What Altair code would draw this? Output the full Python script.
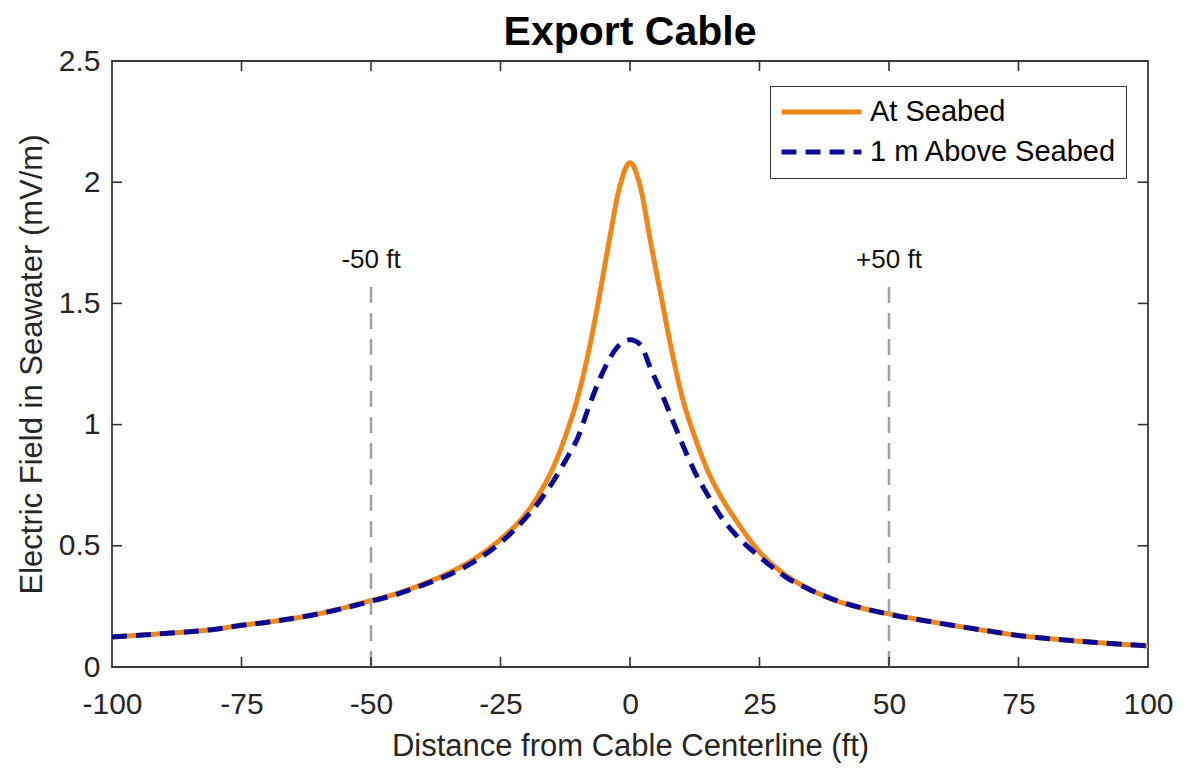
import altair as alt
import pandas as pd

# Distance from cable centerline (ft)
x_vals = [-100, -90, -80, -75, -70, -60, -50, -45, -40, -35, -30, -25, -20, -17.5, -15, -12.5,
          -10, -8, -6, -4, -2, 0, 2, 4, 6, 8, 10, 12.5, 15, 17.5, 20, 25, 30, 35, 40, 45, 50,
          60, 70, 75, 80, 90, 100]

# Electric field at seabed (mV/m)
seabed_vals = [0.124, 0.138, 0.156, 0.172, 0.185, 0.220, 0.274, 0.303, 0.342, 0.388, 0.447, 0.527,
               0.635, 0.715, 0.815, 0.950, 1.12, 1.30, 1.52, 1.76, 1.98, 2.08, 1.98, 1.75, 1.53,
               1.31, 1.12, 0.95, 0.81, 0.705, 0.620, 0.475, 0.380, 0.318, 0.272, 0.242, 0.219,
               0.180, 0.146, 0.130, 0.119, 0.101, 0.087]

# Electric field 1 m above seabed (mV/m)
above_vals = [0.124, 0.138, 0.156, 0.172, 0.185, 0.220, 0.271, 0.300, 0.338, 0.380, 0.436, 0.513,
              0.618, 0.683, 0.760, 0.850, 0.950, 1.07, 1.18, 1.27, 1.33, 1.35, 1.33, 1.23, 1.135,
              1.03, 0.925, 0.805, 0.710, 0.622, 0.555, 0.455, 0.372, 0.316, 0.273, 0.242, 0.218,
              0.180, 0.146, 0.130, 0.119, 0.101, 0.087]

series_names = ["At Seabed", "1 m Above Seabed"]
series_colors = ["#EE8619", "#0A0A96"]
series_dash = [[1, 0], [15, 9]]

marker_x = [-50, 50]
marker_bottom = [0, 0]
marker_top = [1.58, 1.58]
marker_labels = ["-50 ft", "+50 ft"]
marker_label_y = [1.68, 1.68]

x_ticks = [-100, -75, -50, -25, 0, 25, 50, 75, 100]
y_ticks = [0, 0.5, 1, 1.5, 2, 2.5]

W, H = 1036, 606
FONT = "Liberation Sans"
TICKLEN = 10

rows = []
for name, vals in zip(series_names, [seabed_vals, above_vals]):
    for xv, yv in zip(x_vals, vals):
        rows.append({"x": xv, "E": yv, "series": name})
df = pd.DataFrame(rows)

xscale = alt.Scale(domain=[-100, 100], nice=False, zero=False)
yscale = alt.Scale(domain=[0, 2.5], nice=False)

legend = alt.Legend(title=None, orient="none", legendX=658, legendY=25,
                    symbolType="M-1,0L1,0", symbolSize=6400, symbolStrokeWidth=5,
                    labelFont=FONT, labelFontSize=29, labelColor="black",
                    labelOffset=6, clipHeight=34, rowPadding=6, padding=9,
                    strokeColor="#333333", fillColor="white", labelLimit=400)

color_enc = alt.Color("series:N", scale=alt.Scale(domain=series_names, range=series_colors),
                      legend=legend)
dash_enc = alt.StrokeDash("series:N", scale=alt.Scale(domain=series_names, range=series_dash),
                          legend=legend)

x_enc = alt.X("x:Q", scale=xscale,
              axis=alt.Axis(title="Distance from Cable Centerline (ft)", values=x_ticks,
                            labelExpr="'' + datum.value",
                            labelFlush=False, labelOverlap=False, labelBound=False,
                            labelPadding=22, titlePadding=12))
y_enc = alt.Y("E:Q", scale=yscale,
              axis=alt.Axis(title="Electric Field in Seawater (mV/m)", values=y_ticks,
                            labelExpr="'' + datum.value", labelOverlap=False))

base = alt.Chart(df)
line_orange = base.transform_filter(alt.datum.series == series_names[0]).mark_line(
    strokeWidth=5, interpolate="monotone").encode(x=x_enc, y=y_enc, color=color_enc, strokeDash=dash_enc)
line_blue = base.transform_filter(alt.datum.series == series_names[1]).mark_line(
    strokeWidth=5, interpolate="monotone").encode(x=x_enc, y=y_enc, color=color_enc, strokeDash=dash_enc)

mk = pd.DataFrame({"x": marker_x, "bottom": marker_bottom, "top": marker_top,
                   "label": marker_labels, "ly": marker_label_y})
vlines = alt.Chart(mk).mark_rule(color="#A0A0A0", strokeWidth=2.5, strokeDash=[16, 10]).encode(
    x=alt.X("x:Q", scale=xscale), y=alt.Y("bottom:Q", scale=yscale), y2=alt.Y2("top:Q"))
vtext = alt.Chart(mk).mark_text(font=FONT, fontSize=26, color="#111111", baseline="middle").encode(
    x=alt.X("x:Q", scale=xscale), y=alt.Y("ly:Q", scale=yscale), text="label:N")

xt = pd.DataFrame({"x": x_ticks[1:-1]})
yt = pd.DataFrame({"E": y_ticks[1:-1]})
tick_style = dict(color="#333333", strokeWidth=1.6)
xt_bot = alt.Chart(xt).mark_rule(**tick_style).encode(
    x=alt.X("x:Q", scale=xscale), y=alt.value(H), y2=alt.value(H - TICKLEN))
xt_top = alt.Chart(xt).mark_rule(**tick_style).encode(
    x=alt.X("x:Q", scale=xscale), y=alt.value(0), y2=alt.value(TICKLEN))
yt_left = alt.Chart(yt).mark_rule(**tick_style).encode(
    y=alt.Y("E:Q", scale=yscale), x=alt.value(0), x2=alt.value(TICKLEN))
yt_right = alt.Chart(yt).mark_rule(**tick_style).encode(
    y=alt.Y("E:Q", scale=yscale), x=alt.value(W), x2=alt.value(W - TICKLEN))

chart = alt.layer(line_orange, line_blue, vlines, vtext, xt_bot, xt_top, yt_left, yt_right).properties(
    width=W, height=H, background="white",
    padding={"left": 8, "top": 4, "right": 5, "bottom": 5},
    title=alt.TitleParams("Export Cable", font=FONT, fontSize=41, fontWeight="bold", color="black",
                          anchor="middle", offset=-8)
).configure_view(
    stroke="#3a3a3a", strokeWidth=1.8
).configure_axis(
    domain=False, ticks=False, grid=False,
    labelFont=FONT, labelFontSize=30, labelColor="#262626", labelPadding=12,
    titleFont=FONT, titleFontSize=31, titleColor="#262626", titleFontWeight="normal", titlePadding=10
)

chart.save("out.html", embed_options={"renderer": "svg", "actions": False})
